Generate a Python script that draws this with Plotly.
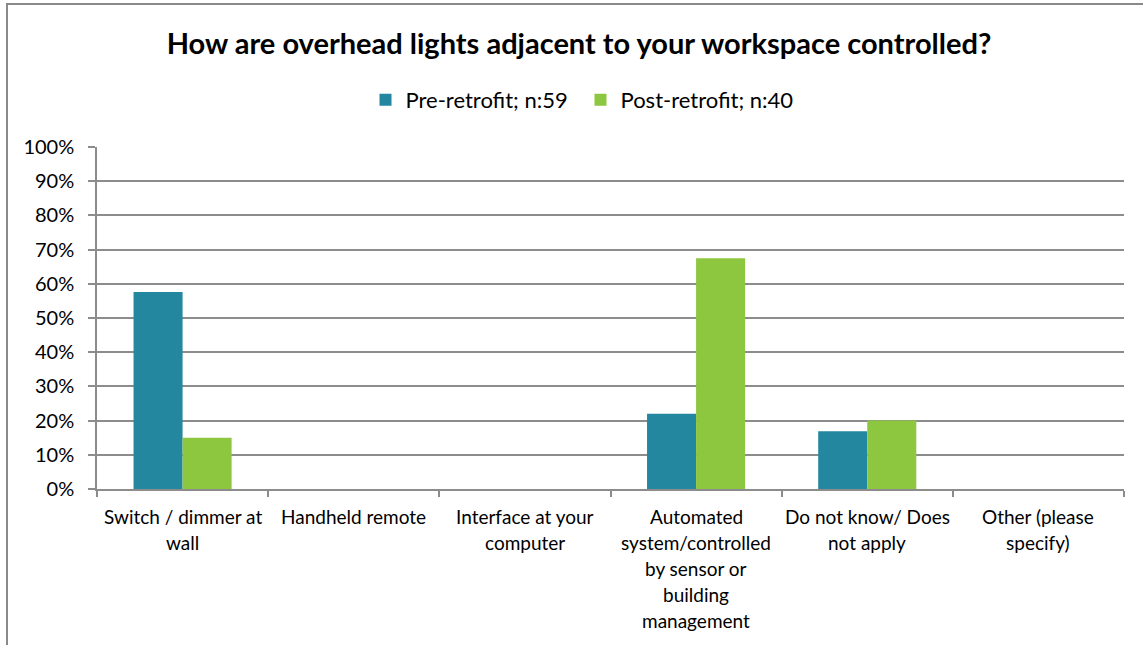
import plotly.graph_objects as go

categories = [
    "Switch / dimmer at<br>wall",
    "Handheld remote",
    "Interface at your<br>computer",
    "Automated<br>system/controlled<br>by sensor or<br>building<br>management",
    "Do not know/ Does<br>not apply",
    "Other (please<br>specify)",
]
pre_values = [57.6, 0, 0, 22.0, 16.9, 0]
post_values = [15.0, 0, 0, 67.5, 20.0, 0]
pre_name = "Pre-retrofit; n:59"
post_name = "Post-retrofit; n:40"
title_text = "How are overhead lights adjacent to your workspace controlled?"

TEAL = "#22879F"
GREEN = "#8DC63F"
GRID = "#8C8C8C"
FONT = "Lato, 'Open Sans', sans-serif"

W, H = 1143, 645
# page-pixel positions of plot area (body margin removed via post_script)
L, R, T, B = 97, 1124, 147, 489

fig = go.Figure()
fig.add_trace(go.Bar(x=categories, y=pre_values, name=pre_name, marker=dict(color=TEAL, line=dict(width=0))))
fig.add_trace(go.Bar(x=categories, y=post_values, name=post_name, marker=dict(color=GREEN, line=dict(width=0))))

# category labels as annotations (to control line spacing)
for cat in categories:
    for i, line in enumerate(cat.split("<br>")):
        fig.add_annotation(x=cat, xref="x", y=0, yref="y", text=line, showarrow=False,
                           yanchor="middle", xanchor="center", yshift=-(27 + 26 * i),
                           font=dict(family=FONT, size=19, color="#000000"))

# outer chart border
pw, ph = R - L, B - T
fig.add_shape(type="rect", xref="paper", yref="paper",
              x0=(7 - L) / pw, x1=(1170 - L) / pw,
              y0=(B - 700) / ph, y1=(B - 4) / ph,
              line=dict(color="#8A8A8A", width=2), layer="below")

fig.update_layout(
    width=W, height=H,
    margin=dict(l=L, r=W - R, t=T, b=H - B, autoexpand=False),
    paper_bgcolor="white", plot_bgcolor="white",
    barmode="group", bargap=0.427, bargroupgap=0,
    title=dict(text="<b>" + title_text + "</b>", x=579 / W, xref="container", xanchor="center",
               y=1 - 44 / H, yref="container", yanchor="middle",
               font=dict(family=FONT, size=29, color="#000000")),
    legend=dict(orientation="h", xref="container", x=(385.5 - 20) / W, xanchor="left",
                yref="container", y=1 - 100 / H, yanchor="middle",
                font=dict(family=FONT, size=22, color="#000000"),
                itemwidth=30, tracegroupgap=0, entrywidth=170),
    showlegend=True,
)
fig.update_xaxes(type="category", showticklabels=False, ticks="outside", tickson="boundaries",
                 ticklen=6, tickcolor=GRID, tickwidth=1.5, showline=True, linecolor=GRID, linewidth=1.5,
                 showgrid=False, zeroline=False, fixedrange=True, automargin=False)
fig.update_yaxes(range=[0, 100], dtick=10, ticksuffix="%", ticks="outside", ticklen=7, tickcolor=GRID,
                 tickwidth=1.5, showline=True, linecolor=GRID, linewidth=1.5, showgrid=True,
                 gridcolor=GRID, gridwidth=1.5, zeroline=False, automargin=False, ticklabelstandoff=10,
                 tickfont=dict(family=FONT, size=20, color="#000000"))

fig.write_html("out.html", post_script="document.body.style.margin='0';",
               config={"displayModeBar": False})
